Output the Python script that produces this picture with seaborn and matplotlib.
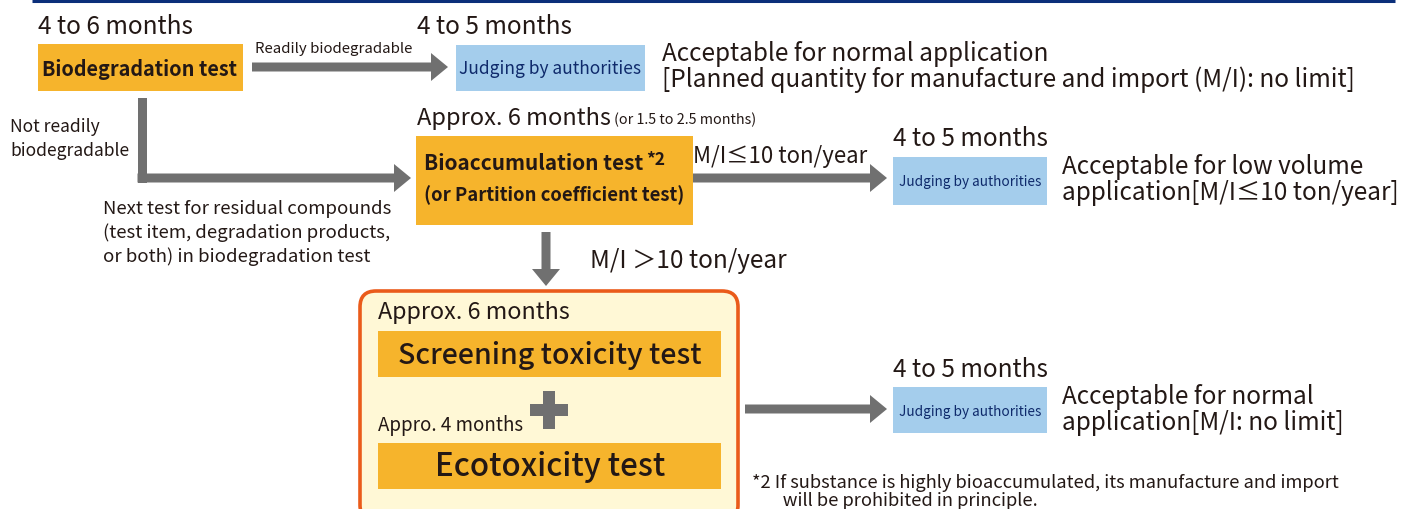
import matplotlib
matplotlib.use("Agg")
import matplotlib.pyplot as plt
import seaborn as sns
from matplotlib.patches import Rectangle, FancyArrow, FancyBboxPatch

sns.set_theme(style="white")
plt.rcParams['font.family'] = ['Noto Sans CJK JP', 'DejaVu Sans']

# ---- content ----
step_labels = ["Biodegradation test", "Bioaccumulation test", "(or Partition coefficient test)",
               "Screening toxicity test", "Ecotoxicity test"]
judge_label = "Judging by authorities"
durations = ["4 to 6 months", "4 to 5 months", "Approx. 6 months", "4 to 5 months",
             "Approx. 6 months", "Appro. 4 months", "4 to 5 months"]
duration_note = "(or 1.5 to 2.5 months)"
branch_labels = ["Readily biodegradable", ["Not readily", "biodegradable"],
                 "M/I\u226410 ton/year", "M/I \uff1e10 ton/year"]
residual_note = ["Next test for residual compounds",
                 "(test item, degradation products,",
                 "or both) in biodegradation test"]
outcomes = [["Acceptable for normal application",
             "[Planned quantity for manufacture and import (M/I): no limit]"],
            ["Acceptable for low volume", "application[M/I\u226410 ton/year]"],
            ["Acceptable for normal", "application[M/I: no limit]"]]
footnote = ["*2 If substance is highly bioaccumulated, its manufacture and import",
            "\u3000   will be prohibited in principle."]

# ---- style ----
ORANGE = "#F6B42C"
BLUE = "#A4CDEC"
NAVY = "#0F2A6B"
GRAY = "#707070"
TXT = "#231815"
REG = 17.5
DY = 3  # baseline correction for the font

fig = plt.figure(figsize=(14.26, 5.09), dpi=100)
ax = fig.add_axes([0, 0, 1, 1])
ax.set_xlim(0, 1426)
ax.set_ylim(509, 0)
ax.axis('off')

# top rule
ax.plot([32, 1395], [0.8, 0.8], color="#0B2F7A", lw=2.2, solid_capstyle='butt')

def box(x0, y0, x1, y1, color):
    ax.add_patch(Rectangle((x0, y0), x1 - x0, y1 - y0, facecolor=color, edgecolor='none', zorder=2))

def harrow(x0, x1, y):
    ax.add_patch(FancyArrow(x0, y, x1 - x0, 0, width=9, head_width=28, head_length=17,
                            length_includes_head=True, color=GRAY, lw=0, zorder=2))

def varrow(x, y0, y1):
    ax.add_patch(FancyArrow(x, y0, 0, y1 - y0, width=9, head_width=28, head_length=17,
                            length_includes_head=True, color=GRAY, lw=0, zorder=2))

def txt(x, y, s, size, ha='left', va='center', color=TXT, **kw):
    ax.text(x, y + DY, s, fontsize=size, ha=ha, va=va, color=color, zorder=4, **kw)

def lines(x, y0, dy, items, size, **kw):
    for i, s in enumerate(items):
        txt(x, y0 + i * dy, s, size, **kw)

# ---- row 1 ----
txt(38, 24, durations[0], REG)
box(38, 44, 243, 91, ORANGE)
txt(140, 66, step_labels[0], 14.3, ha='center', fontweight='bold')
harrow(252, 448, 67)
txt(255, 46, branch_labels[0], 10.8)
txt(417, 24, durations[1], REG)
box(456, 45, 645, 91, BLUE)
txt(550, 66, judge_label, 12.5, ha='center', color=NAVY)
lines(662, 51, 26, outcomes[0], REG)

# ---- L arrow to bioaccumulation ----
ax.add_patch(Rectangle((137.5, 98), 9, 84.5, facecolor=GRAY, edgecolor='none', zorder=2))
harrow(137.5, 411, 178)
lines(10, 124, 24, branch_labels[1], 12.6)
lines(103, 206, 24, residual_note, 13.4)

# ---- row 2 ----
txt(417, 115, durations[2], 17)
txt(614, 117, duration_note, 10.3)
box(416, 136, 693, 225, ORANGE)
txt(424, 161, step_labels[1], 15, fontweight='bold')
txt(646, 157, "*2", 12.5, fontweight='bold')
txt(554, 192, step_labels[2], 13.3, ha='center', fontweight='bold')
harrow(693, 887, 178)
txt(693, 153, branch_labels[2], 16)
txt(893, 136, durations[3], REG)
box(893, 157, 1047, 205, BLUE)
txt(970, 179, judge_label, 9.8, ha='center', color=NAVY)
lines(1062, 164, 26, outcomes[1], REG)

# ---- down arrow ----
varrow(546, 232, 286)
txt(590, 258, branch_labels[3], REG)

# ---- toxicity group ----
ax.add_patch(FancyBboxPatch((360, 291), 378, 230, boxstyle="round,pad=0,rounding_size=16",
                            facecolor="#FFF8D6", edgecolor="#EA5B1A", lw=2.6, zorder=1))
txt(378, 310, durations[4], 16.8)
box(378, 331, 721, 377, ORANGE)
txt(550, 352, step_labels[3], 20.5, ha='center', fontweight='medium')
ax.add_patch(Rectangle((530, 404), 38, 12, facecolor=GRAY, edgecolor='none', zorder=2))
ax.add_patch(Rectangle((543, 391), 12, 38, facecolor=GRAY, edgecolor='none', zorder=2))
txt(378, 422, durations[5], 13.5)
box(378, 443, 721, 489, ORANGE)
txt(550, 464, step_labels[4], 22.5, ha='center', fontweight='medium')

harrow(745, 887, 409)
txt(893, 367, durations[6], REG)
box(893, 387, 1047, 433, BLUE)
txt(970, 409, judge_label, 9.8, ha='center', color=NAVY)
lines(1062, 394, 26, outcomes[2], REG)

ax.text(752, 492, "\n".join(footnote), fontsize=13.2, ha='left', va='center',
        color=TXT, linespacing=0.95, zorder=4)

fig.savefig("out.png", dpi=100)
